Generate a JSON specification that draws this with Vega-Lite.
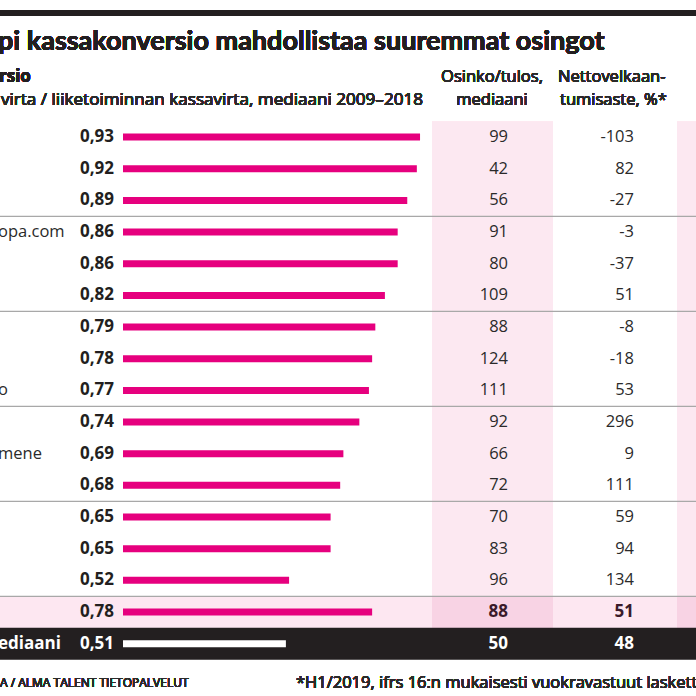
{
  "$schema": "https://vega.github.io/schema/vega-lite/v6.json",
  "width": 696,
  "height": 696,
  "autosize": {"type": "none"},
  "padding": 0,
  "background": "white",
  "config": {
    "view": {"stroke": null},
    "locale": {"number": {"decimal": ",", "thousands": " ", "grouping": [3], "currency": ["", " €"], "minus": "-"}},
    "text": {"font": "Open Sans", "fontWeight": "normal"}
  },
  "data": {
    "values": [
      {"row": 1, "kind": "company", "name": "", "ratio": 0.93, "payout": 99, "gearing": -103},
      {"row": 2, "kind": "company", "name": "", "ratio": 0.92, "payout": 42, "gearing": 82},
      {"row": 3, "kind": "company", "name": "", "ratio": 0.89, "payout": 56, "gearing": -27},
      {"row": 4, "kind": "company", "name": "opa.com", "ratio": 0.86, "payout": 91, "gearing": -3},
      {"row": 5, "kind": "company", "name": "", "ratio": 0.86, "payout": 80, "gearing": -37},
      {"row": 6, "kind": "company", "name": "", "ratio": 0.82, "payout": 109, "gearing": 51},
      {"row": 7, "kind": "company", "name": "", "ratio": 0.79, "payout": 88, "gearing": -8},
      {"row": 8, "kind": "company", "name": "", "ratio": 0.78, "payout": 124, "gearing": -18},
      {"row": 9, "kind": "company", "name": "o", "ratio": 0.77, "payout": 111, "gearing": 53},
      {"row": 10, "kind": "company", "name": "", "ratio": 0.74, "payout": 92, "gearing": 296},
      {"row": 11, "kind": "company", "name": "mene", "ratio": 0.69, "payout": 66, "gearing": 9},
      {"row": 12, "kind": "company", "name": "", "ratio": 0.68, "payout": 72, "gearing": 111},
      {"row": 13, "kind": "company", "name": "", "ratio": 0.65, "payout": 70, "gearing": 59},
      {"row": 14, "kind": "company", "name": "", "ratio": 0.65, "payout": 83, "gearing": 94},
      {"row": 15, "kind": "company", "name": "", "ratio": 0.52, "payout": 96, "gearing": 134},
      {"row": 16, "kind": "avg", "name": "", "ratio": 0.78, "payout": 88, "gearing": 51},
      {"row": 17, "kind": "median", "name": "ediaani", "ratio": 0.51, "payout": 50, "gearing": 48}
    ]
  },
  "layer": [
    {
      "mark": {"type": "rect", "color": "#fce8f1"},
      "encoding": {
        "x": {"value": 432}, "x2": {"value": 553},
        "y": {"datum": 0.5, "type": "quantitative", "scale": {"domain": [-3.171, 18.494], "reverse": true, "nice": false, "zero": false}, "axis": null},
        "y2": {"datum": 16.5}
      }
    },
    {
      "mark": {"type": "rect", "color": "#fce8f1"},
      "encoding": {
        "x": {"value": 677}, "x2": {"value": 700},
        "y": {"datum": 0.5, "type": "quantitative"}, "y2": {"datum": 16.5}
      }
    },
    {
      "transform": [{"filter": "datum.kind === 'avg'"}],
      "mark": {"type": "rect", "color": "#fde7f1", "yOffset": -16.06, "y2Offset": 16.06},
      "encoding": {
        "x": {"value": 0}, "x2": {"value": 700},
        "y": {"field": "row", "type": "quantitative"}, "y2": {"field": "row"}
      }
    },
    {
      "transform": [{"filter": "datum.kind === 'avg'"}],
      "mark": {"type": "rect", "color": "#f8d3e4", "yOffset": -16.06, "y2Offset": 16.06},
      "encoding": {
        "x": {"value": 432}, "x2": {"value": 553},
        "y": {"field": "row", "type": "quantitative"}, "y2": {"field": "row"}
      }
    },
    {
      "transform": [{"filter": "datum.kind === 'avg'"}],
      "mark": {"type": "rect", "color": "#f8d3e4", "yOffset": -16.06, "y2Offset": 16.06},
      "encoding": {
        "x": {"value": 677}, "x2": {"value": 700},
        "y": {"field": "row", "type": "quantitative"}, "y2": {"field": "row"}
      }
    },
    {
      "transform": [{"filter": "datum.kind === 'median'"}],
      "mark": {"type": "rect", "color": "#231f20", "yOffset": -16.06, "y2Offset": 16.06},
      "encoding": {
        "x": {"value": 0}, "x2": {"value": 700},
        "y": {"field": "row", "type": "quantitative"}, "y2": {"field": "row"}
      }
    },
    {
      "transform": [{"filter": "datum.row % 3 === 0 && datum.row <= 15"}],
      "mark": {"type": "rule", "color": "#a8a8a8", "strokeWidth": 1.2, "yOffset": 16.06},
      "encoding": {
        "x": {"value": 0}, "x2": {"value": 700},
        "y": {"field": "row", "type": "quantitative"}
      }
    },
    {
      "mark": {"type": "bar", "orient": "horizontal", "size": 7},
      "encoding": {
        "x": {"field": "ratio", "type": "quantitative", "scale": {"domain": [-0.3851, 1.794], "nice": false, "zero": false}, "axis": null},
        "y": {"field": "row", "type": "quantitative"},
        "color": {"condition": {"test": "datum.kind === 'median'", "value": "#ffffff"}, "value": "#e6007e"}
      }
    },
    {
      "mark": {"type": "text", "align": "right", "baseline": "middle", "fontSize": 17, "fontWeight": "bold"},
      "encoding": {
        "x": {"value": 114},
        "y": {"field": "row", "type": "quantitative"},
        "text": {"field": "ratio", "type": "quantitative", "format": ".2f"},
        "color": {"condition": {"test": "datum.kind === 'median'", "value": "#ffffff"}, "value": "#231f20"}
      }
    },
    {
      "transform": [{"filter": "datum.kind === 'company' && datum.name !== ''"}],
      "mark": {"type": "text", "align": "left", "baseline": "middle", "fontSize": 16.5, "color": "#2a2a2a"},
      "encoding": {
        "x": {"value": -2},
        "y": {"field": "row", "type": "quantitative"},
        "text": {"field": "name", "type": "nominal"}
      }
    },
    {
      "transform": [{"filter": "datum.kind === 'median'"}],
      "mark": {"type": "text", "align": "left", "baseline": "middle", "fontSize": 17, "fontWeight": "bold", "color": "#ffffff"},
      "encoding": {
        "x": {"value": -2},
        "y": {"field": "row", "type": "quantitative"},
        "text": {"field": "name", "type": "nominal"}
      }
    },
    {
      "transform": [{"filter": "datum.kind === 'company'"}],
      "mark": {"type": "text", "align": "right", "baseline": "middle", "fontSize": 16.5, "color": "#2a2a2a"},
      "encoding": {
        "x": {"value": 508},
        "y": {"field": "row", "type": "quantitative"},
        "text": {"field": "payout", "type": "quantitative", "format": "d"}
      }
    },
    {
      "transform": [{"filter": "datum.kind === 'company'"}],
      "mark": {"type": "text", "align": "right", "baseline": "middle", "fontSize": 16.5, "color": "#2a2a2a"},
      "encoding": {
        "x": {"value": 634},
        "y": {"field": "row", "type": "quantitative"},
        "text": {"field": "gearing", "type": "quantitative", "format": "d"}
      }
    },
    {
      "transform": [{"filter": "datum.kind !== 'company'"}],
      "mark": {"type": "text", "align": "right", "baseline": "middle", "fontSize": 17, "fontWeight": "bold"},
      "encoding": {
        "x": {"value": 508},
        "y": {"field": "row", "type": "quantitative"},
        "text": {"field": "payout", "type": "quantitative", "format": "d"},
        "color": {"condition": {"test": "datum.kind === 'median'", "value": "#ffffff"}, "value": "#3a1a2a"}
      }
    },
    {
      "transform": [{"filter": "datum.kind !== 'company'"}],
      "mark": {"type": "text", "align": "right", "baseline": "middle", "fontSize": 17, "fontWeight": "bold"},
      "encoding": {
        "x": {"value": 634},
        "y": {"field": "row", "type": "quantitative"},
        "text": {"field": "gearing", "type": "quantitative", "format": "d"},
        "color": {"condition": {"test": "datum.kind === 'median'", "value": "#ffffff"}, "value": "#3a1a2a"}
      }
    },
    {
      "mark": {"type": "rule", "color": "#231f20", "strokeWidth": 6},
      "encoding": {"x": {"value": 0}, "x2": {"value": 700}, "y": {"value": 13}}
    },
    {
      "mark": {"type": "text", "text": "pi kassakonversio mahdollistaa suuremmat osingot", "align": "left", "baseline": "middle", "font": "Lato", "fontSize": 27, "fontWeight": "bold", "color": "#231f20"},
      "encoding": {"x": {"value": -2}, "y": {"value": 42}}
    },
    {
      "mark": {"type": "text", "text": "rsio", "align": "left", "baseline": "middle", "fontSize": 17, "fontWeight": "bold", "color": "#231f20"},
      "encoding": {"x": {"value": -1}, "y": {"value": 77}}
    },
    {
      "mark": {"type": "text", "text": "virta / liiketoiminnan kassavirta, mediaani 2009–2018", "align": "right", "baseline": "middle", "fontSize": 17.1, "color": "#2a2a2a"},
      "encoding": {"x": {"value": 423}, "y": {"value": 100}}
    },
    {
      "mark": {"type": "text", "text": "Osinko/tulos,", "align": "center", "baseline": "middle", "fontSize": 16.5, "color": "#2a2a2a"},
      "encoding": {"x": {"value": 492}, "y": {"value": 77}}
    },
    {
      "mark": {"type": "text", "text": "mediaani", "align": "center", "baseline": "middle", "fontSize": 16.5, "color": "#2a2a2a"},
      "encoding": {"x": {"value": 492}, "y": {"value": 100}}
    },
    {
      "mark": {"type": "text", "text": "Nettovelkaan-", "align": "left", "baseline": "middle", "fontSize": 16.5, "color": "#2a2a2a"},
      "encoding": {"x": {"value": 558}, "y": {"value": 77}}
    },
    {
      "mark": {"type": "text", "text": "tumisaste, %*", "align": "left", "baseline": "middle", "fontSize": 16.5, "color": "#2a2a2a"},
      "encoding": {"x": {"value": 560}, "y": {"value": 100}}
    },
    {
      "mark": {"type": "text", "text": "A / ALMA TALENT TIETOPALVELUT", "align": "left", "baseline": "middle", "fontSize": 12, "color": "#2a2a2a"},
      "encoding": {"x": {"value": 0}, "y": {"value": 683}}
    },
    {
      "mark": {"type": "text", "text": "*H1/2019, ifrs 16:n mukaisesti vuokravastuut laskettu mukaan", "align": "left", "baseline": "middle", "fontSize": 16.5, "color": "#2a2a2a"},
      "encoding": {"x": {"value": 296}, "y": {"value": 683}}
    }
  ]
}
